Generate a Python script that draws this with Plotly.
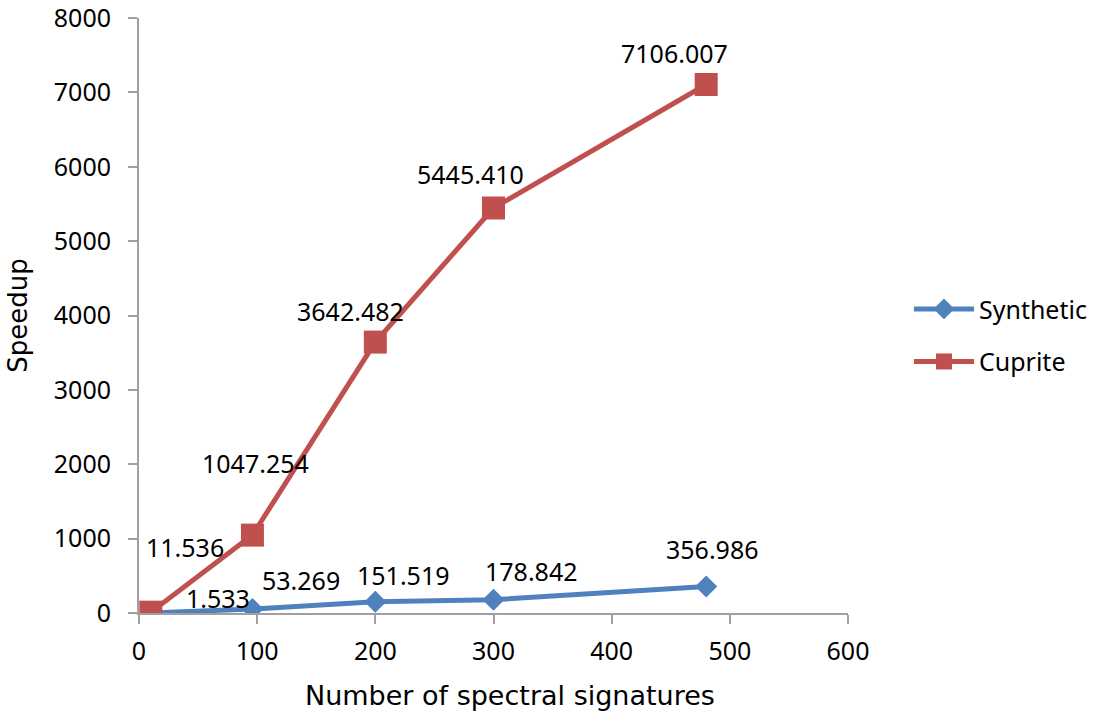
import plotly.graph_objects as go

signatures = [10, 96, 200, 300, 480]
synthetic = [1.533, 53.269, 151.519, 178.842, 356.986]
cuprite = [11.536, 1047.254, 3642.482, 5445.410, 7106.007]
synthetic_labels = ["1.533", "53.269", "151.519", "178.842", "356.986"]
cuprite_labels = ["11.536", "1047.254", "3642.482", "5445.410", "7106.007"]
x_title = "Number of spectral signatures"
y_title = "Speedup"

# label offsets in pixels (styling)
syn_off = [(67, 15), (49, 29), (28, 27), (38, 29), (6, 37)]
cup_off = [(34, 65), (3, 72), (-25, 31), (-23, 34), (-32, 31)]

FONT = "Noto Sans"
TFONT = "DejaVu Sans"
BLUE = "#4F81BD"
RED = "#C0504D"

fig = go.Figure()
fig.add_trace(go.Scatter(x=signatures, y=synthetic, mode="lines+markers", name="Synthetic",
                         legendgroup="a",
                         line=dict(color=BLUE, width=5),
                         marker=dict(symbol="diamond", size=17, color=BLUE)))
fig.add_trace(go.Scatter(x=signatures, y=cuprite, mode="lines+markers", name="Cuprite",
                         legendgroup="b",
                         line=dict(color=RED, width=5),
                         marker=dict(symbol="square", size=23, color=RED)))

for xs, ys, labs, offs in [(signatures, synthetic, synthetic_labels, syn_off),
                           (signatures, cuprite, cuprite_labels, cup_off)]:
    for x, y, t, (dx, dy) in zip(xs, ys, labs, offs):
        fig.add_annotation(x=x, y=y, text=t, showarrow=False, xshift=dx, yshift=dy,
                           font=dict(family=FONT, size=25, color="#000000"))

# x-axis title (slightly right of centre, as in the reference)
fig.add_annotation(text=x_title, xref="paper", yref="paper", x=0.5226, y=-0.138,
                   xanchor="center", yanchor="middle", showarrow=False,
                   font=dict(family=TFONT, size=27, color="#000000"))

fig.update_layout(
    width=1094, height=717,
    margin=dict(l=139, r=246, t=18, b=104, autoexpand=False),
    paper_bgcolor="white", plot_bgcolor="white",
    font=dict(family=FONT, size=25, color="#000000"),
    showlegend=True,
    legend=dict(x=1.086, y=0.467, xanchor="left", yanchor="middle",
                font=dict(family=FONT, size=25), itemwidth=60, tracegroupgap=17,
                bgcolor="rgba(0,0,0,0)"),
    xaxis=dict(range=[0, 600], tickvals=[0, 100, 200, 300, 400, 500, 600],
               showgrid=False, zeroline=False, showline=True, linecolor="#A0A0A0", linewidth=2,
               ticks="outside", ticklen=9, tickcolor="#A0A0A0", tickwidth=2,
               ticklabeloverflow="allow", ticklabelstandoff=6,
               tickfont=dict(family=FONT, size=25)),
    yaxis=dict(range=[0, 8000], tickvals=list(range(0, 8001, 1000)),
               showgrid=False, zeroline=False, showline=True, linecolor="#A0A0A0", linewidth=2,
               ticks="outside", ticklen=9, tickcolor="#A0A0A0", tickwidth=2,
               ticklabeloverflow="allow", ticklabelstandoff=12,
               title=dict(text=y_title, font=dict(family=TFONT, size=26), standoff=19),
               tickfont=dict(family=FONT, size=25)),
)

fig.write_html("out.html", config={"displayModeBar": False},
               post_script="document.body.style.margin='0';")
